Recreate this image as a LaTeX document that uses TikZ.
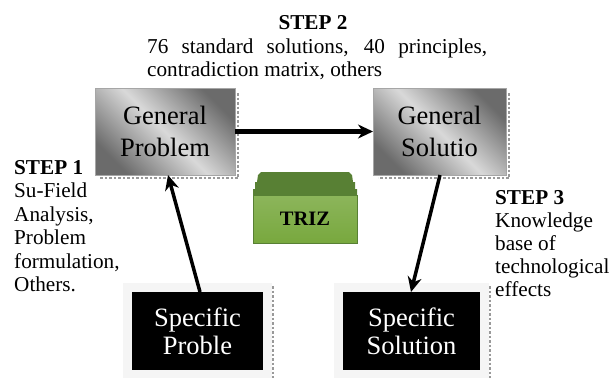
\documentclass[tikz,border=0pt]{standalone}
\usepackage{fontspec}
\setmainfont{Liberation Serif}
\usetikzlibrary{shapes,positioning,calc,arrows.meta}
\definecolor{trizfront}{RGB}{120,168,62}
\definecolor{triztop}{RGB}{88,128,52}

\begin{document}
\begin{tikzpicture}
  [x=1pt,y=-1pt,
   genN/.style={rectangle,draw=gray!70,minimum height=87pt,inner sep=0pt,outer sep=0pt,
     top color=black!58,bottom color=black!58,middle color=black!15,shading angle=-45,
     align=center,font=\fontsize{26.5}{32}\selectfont},
   specN/.style={rectangle,fill=black,text=white,minimum height=78pt,inner sep=0pt,outer sep=0pt,
     preaction={draw=gray!8,line width=18pt},align=center,font=\fontsize{26.5}{28}\selectfont},
   noteN/.style={align=left,inner sep=0pt,anchor=north west,font=\fontsize{21.2}{23.5}\selectfont},
   trizN/.style={rectangle,draw=triztop,top color=trizfront!85!white,bottom color=trizfront,
     minimum width=104pt,minimum height=48pt,inner sep=0pt,outer sep=0pt,
     font=\fontsize{20.5}{24}\selectfont\bfseries},
   dotsN/.style={gray!80,dotted,line width=2.5pt},
   arrowN/.style={line width=3.5pt,-{Stealth[length=15pt,width=14pt]}},
   node distance=138pt]

  \useasboundingbox (0,0) rectangle (614,378);

  \path (165,131.5) node[genN,minimum width=140pt] (gp) {General\\Problem}
       +(32.5,199.5) node[specN,minimum width=131pt] (sp) {Specific\\Proble};

  \node[genN,minimum width=133pt] (gs) [right=of gp] {General\\Solutio};
  \node[specN,minimum width=137pt] (ss) at (411.5,331) {Specific\\Solution};
  \node[trizN] (triz) at (305,219) {TRIZ};

  \node[font=\fontsize{21.2}{24}\selectfont\bfseries] (s2) at (313,23) {STEP 2};
  \node[noteN,text width=340pt,align=justify] (s2t) at (147,38.5)
    {76 standard solutions, 40 principles, contradiction matrix, others};
  \node[noteN] (s1) at (14,160) {\textbf{STEP 1}\\Su-Field\\Analysis,\\Problem\\formulation,\\Others.};
  \node[noteN,font=\fontsize{21.2}{23}\selectfont] (s3) at (495,190) {\textbf{STEP 3}\\Knowledge\\base of\\technological\\effects};

  \fill[triztop] (triz.north west) -- ++(0,-6) -- ++(2,0) -- ++(0,-7) -- ++(2,0)
       -- ++(1,-7) -- ++(3,-3) -- ++(88,0) -- ++(3,3) -- ++(1,7) -- ++(2,0)
       -- ++(0,7) -- ++(2,0) -- ++(0,6) -- cycle;

  \foreach \n in {gp,gs}
    \draw[dotsN] ([shift={(3pt,-5pt)}]\n.north east) -- ([shift={(3pt,-3pt)}]\n.south east)
       -- ([shift={(5pt,-3pt)}]\n.south west);
  \foreach \n in {sp,ss}
    \draw[dotsN] ([shift={(10pt,6pt)}]\n.north east) -- ([shift={(10pt,-9pt)}]\n.south east);

  \draw [arrowN,line width=5pt] (gp) -- (gs);
  \draw [arrowN] ([xshift=2.5pt]sp.north) -- ([xshift=3pt]gp.south);
  \draw [arrowN] ([xshift=0.5pt]gs.south) -- ([xshift=-0.5pt]ss.north);

\end{tikzpicture}
\end{document}
